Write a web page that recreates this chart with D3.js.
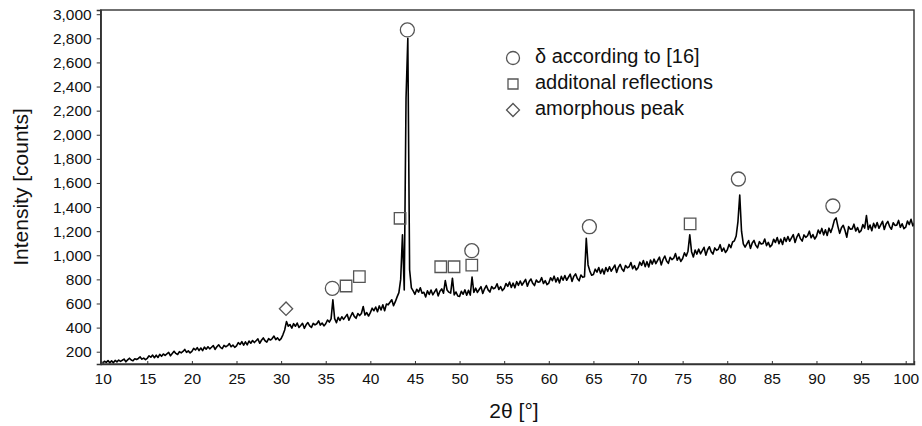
<!DOCTYPE html>
<html>
<head>
<meta charset="utf-8">
<script src="https://cdn.jsdelivr.net/npm/d3@7"></script>
<style>
  html, body { margin: 0; padding: 0; background: #fff; }
  svg { display: block; font-family: "Liberation Sans", Arial, sans-serif; }
</style>
</head>
<body>
<svg id="chart" width="922" height="426"></svg>
<script>
// XRD scan: intensity in counts, sampled every 0.2° starting at 2θ = 10°
const scanStart = 10;
const scanStep = 0.2;
const intensity = [
  104, 121, 112, 126, 108,   124, 108, 128, 116, 131,   120, 129, 139, 116, 132,
  146, 131, 124, 142, 135,   144, 157, 138, 147, 134,   145, 166, 154, 172, 150,
  171, 152, 178, 162, 181,   170, 182, 194, 166, 185,   204, 186, 177, 200, 190,
  202, 219, 195, 207, 190,   203, 227, 214, 234, 209,   231, 209, 238, 221, 241,
  224, 237, 251, 219, 241,   257, 236, 226, 252, 241,   250, 268, 241, 255, 236,
  249, 275, 260, 283, 254,   282, 257, 289, 270, 293,   276, 291, 306, 270, 295,
  314, 291, 280, 309, 297,   309, 330, 300, 315, 294,   309, 340, 380, 450, 412,
  425, 396, 433, 411, 438,   401, 418, 436, 394, 423,   442, 415, 402, 435, 422,
  432, 456, 421, 438, 414,   432, 463, 446, 472, 630,   475, 441, 485, 459, 490,
  468, 489, 510, 461, 494,   524, 493, 477, 516, 500,   517, 575, 504, 525, 496,
  524, 561, 540, 571, 532,   580, 546, 590, 540, 595,   589, 610, 631, 582, 615,
  655, 690, 800, 1170, 712,  2300, 2800, 880, 730, 705, 676, 718, 694, 730, 685,
  693, 654, 705, 675, 711,   672, 696, 720, 663, 702,   721, 685, 790, 712, 694,
  686, 810, 671, 695, 662,   659, 701, 677, 713, 668,   709, 670, 820, 691, 727,
  692, 716, 740, 683, 722,   749, 713, 695, 740, 722,   731, 764, 716, 740, 707,
  724, 766, 742, 778, 733,   769, 730, 781, 751, 787,   752, 776, 800, 743, 782,
  803, 767, 749, 794, 776,   781, 814, 766, 790, 757,   769, 814, 789, 827, 779,
  813, 771, 825, 793, 832,   793, 818, 844, 783, 825,   846, 807, 788, 836, 817,
  822, 1140, 920, 869, 834,  840, 885, 860, 898, 850,   886, 844, 898, 866, 905,
  868, 893, 919, 858, 900,   925, 886, 867, 915, 896,   905, 940, 889, 914, 879,
  896, 943, 916, 957, 906,   947, 903, 961, 927, 968,   931, 958, 985, 920, 965,
  994, 953, 933, 984, 964,   976, 1014, 959, 986, 949,  973, 1020, 993, 1034, 1170,
  1030, 986, 1044, 1010, 1051, 1012, 1039, 1066, 1001, 1046, 1071, 1030, 1010, 1061, 1041,
  1050, 1088, 1033, 1060, 1023, 1043, 1090, 1063, 1110, 1120, 1160, 1280, 1500, 1200, 1095,
  1068, 1095, 1122, 1057, 1102, 1123, 1082, 1062, 1113, 1093, 1097, 1135, 1080, 1107, 1070,
  1086, 1133, 1106, 1147, 1096, 1134, 1090, 1148, 1114, 1155, 1117, 1144, 1171, 1106, 1151,
  1179, 1138, 1118, 1169, 1149, 1162, 1200, 1145, 1172, 1135, 1158, 1209, 1180, 1223, 1169,
  1211, 1164, 1225, 1189, 1232, 1290, 1310, 1240, 1182, 1229, 1249, 1206, 1150, 1238, 1216,
  1219, 1258, 1201, 1230, 1190, 1204, 1255, 1226, 1330, 1215, 1251, 1204, 1265, 1229, 1272,
  1224, 1253, 1282, 1214, 1260, 1281, 1238, 1216, 1270, 1248, 1250, 1289, 1232, 1261, 1221,
  1233, 1284, 1255, 1298, 1244, 1270
];

// Reflection markers (2θ, counts)
const deltaX = [35.74, 44.15, 51.37, 64.55, 81.25, 91.84];
const deltaY = [726, 2870, 1038, 1237, 1633, 1409];
const extraX = [37.28, 38.77, 43.33, 47.89, 49.38, 51.37, 75.84];
const extraY = [745, 823, 1307, 905, 905, 919, 1260];
const amorphX = [30.55];
const amorphY = [557];

// Axis ticks and labels
const xTicks = [10, 15, 20, 25, 30, 35, 40, 45, 50, 55, 60, 65, 70, 75, 80, 85, 90, 95, 100];
const yTicks = [200, 400, 600, 800, 1000, 1200, 1400, 1600, 1800, 2000, 2200, 2400, 2600, 2800, 3000];
const legendLabels = ["δ according to [16]", "additonal reflections", "amorphous peak"];
const xTitle = "2θ [°]";
const yTitle = "Intensity [counts]";

const svg = d3.select("#chart");
const plotLeft = 100.7, plotRight = 914, plotTop = 10, plotBottom = 364;

const x = d3.scaleLinear().domain([9.78, 100.93]).range([plotLeft, plotRight]);
const y = d3.scaleLinear().domain([98, 3035]).range([plotBottom, plotTop]);

const markColor = "#555";
const axisColor = "#333";

svg.append("defs").append("clipPath").attr("id", "plotClip")
  .append("rect").attr("x", plotLeft).attr("y", plotTop)
  .attr("width", plotRight - plotLeft).attr("height", plotBottom - plotTop);

// scan line
const scan = intensity.map((v, i) => [scanStart + i * scanStep, v]);
svg.append("path")
  .datum(scan)
  .attr("clip-path", "url(#plotClip)")
  .attr("fill", "none")
  .attr("stroke", "#000")
  .attr("stroke-width", 1.6)
  .attr("stroke-linejoin", "round")
  .attr("d", d3.line().x(d => x(d[0])).y(d => y(d[1])));

// frame
svg.append("rect")
  .attr("x", plotLeft).attr("y", plotTop)
  .attr("width", plotRight - plotLeft).attr("height", plotBottom - plotTop)
  .attr("fill", "none").attr("stroke", axisColor).attr("stroke-width", 1.4);

// axes
const xAxis = svg.append("g").attr("transform", `translate(0,${plotBottom})`)
  .call(d3.axisBottom(x).tickValues(xTicks).tickSize(-3).tickPadding(9).tickFormat(d3.format("d")));
const yAxis = svg.append("g").attr("transform", `translate(${plotLeft},0)`)
  .call(d3.axisLeft(y).tickValues(yTicks).tickSize(4).tickPadding(5).tickFormat(d3.format(",")));
[xAxis, yAxis].forEach(g => {
  g.select(".domain").attr("stroke", axisColor).attr("stroke-width", 1.4);
  g.selectAll(".tick line").attr("stroke", axisColor).attr("stroke-width", 1);
  g.selectAll(".tick text").attr("fill", "#111").style("font-size", "15.5px")
    .style("font-family", "'Liberation Sans', Arial, sans-serif");
});

// axis titles
svg.append("text")
  .attr("x", 514).attr("y", 412)
  .attr("text-anchor", "middle").attr("dominant-baseline", "middle")
  .attr("fill", "#111").style("font-size", "21px")
  .text(xTitle);
svg.append("text")
  .attr("transform", "translate(22,187) rotate(-90)")
  .attr("text-anchor", "middle").attr("dominant-baseline", "middle")
  .attr("fill", "#111").style("font-size", "21px")
  .text(yTitle);

// marker shapes
const circleSym = d3.symbol().type(d3.symbolCircle).size(154);
const squareSym = d3.symbol().type(d3.symbolSquare).size(132);
const diamondSym = d3.symbol().type(d3.symbolSquare).size(88);

function drawMarks(xs, ys, sym, rotate) {
  svg.append("g").selectAll("path")
    .data(xs.map((v, i) => [v, ys[i]]))
    .join("path")
    .attr("d", sym)
    .attr("transform", d => `translate(${x(d[0])},${y(d[1])})${rotate ? " rotate(45)" : ""}`)
    .attr("fill", "none")
    .attr("stroke", markColor)
    .attr("stroke-width", 1.3);
}
drawMarks(deltaX, deltaY, circleSym, false);
drawMarks(extraX, extraY, squareSym, false);
drawMarks(amorphX, amorphY, diamondSym, true);

// legend
const legend = svg.append("g");
const legendSyms = [
  { sym: d3.symbol().type(d3.symbolCircle).size(133), rot: false },
  { sym: d3.symbol().type(d3.symbolSquare).size(100), rot: false },
  { sym: d3.symbol().type(d3.symbolSquare).size(84), rot: true }
];
const legendRows = [58, 84, 110];
legendLabels.forEach((label, i) => {
  legend.append("path")
    .attr("d", legendSyms[i].sym)
    .attr("transform", `translate(513,${legendRows[i]})${legendSyms[i].rot ? " rotate(45)" : ""}`)
    .attr("fill", "none").attr("stroke", markColor).attr("stroke-width", 1.3);
  legend.append("text")
    .attr("x", 535).attr("y", legendRows[i])
    .attr("dominant-baseline", "middle")
    .attr("fill", "#111").style("font-size", "20px")
    .text(label);
});
</script>
</body>
</html>
